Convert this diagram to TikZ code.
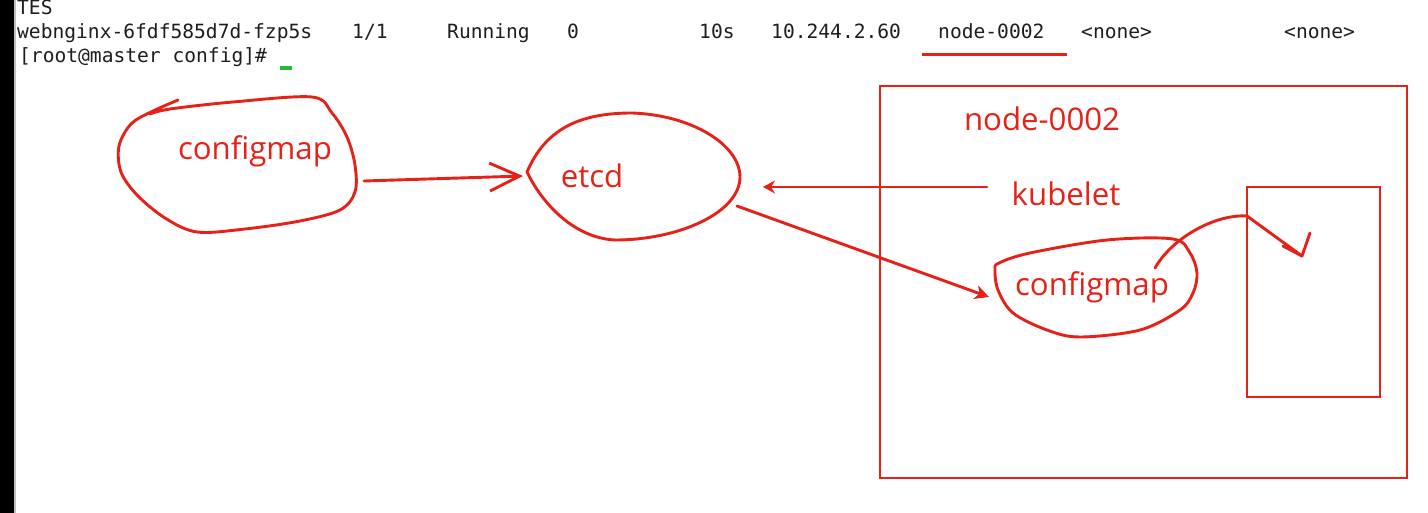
\documentclass[tikz,border=0pt]{standalone}
\usepackage{fontspec}
\setmainfont{Open Sans}
\newfontfamily\termfont{DejaVu Sans Mono}
\usetikzlibrary{arrows.meta}
\definecolor{ink}{RGB}{230,33,23}
\definecolor{term}{RGB}{30,30,30}
\definecolor{cursor}{RGB}{40,185,60}
\tikzset{
  term/.style={anchor=base west, inner sep=0pt, text=term, font=\termfont\fontsize{19.6}{20}\selectfont},
  label/.style={anchor=base, inner sep=0pt, text=ink, font=\fontsize{31.2}{32}\selectfont},
  pen/.style={draw=ink, line width=2.9pt, line cap=round, line join=round},
  box/.style={draw=ink, line width=2.9pt},
}
\begin{document}
\begin{tikzpicture}[x=1pt,y=-1pt]
\useasboundingbox (0,0) rectangle (1428,513);
\fill[white] (0,0) rectangle (1428,513);
\fill[black] (0,0) rectangle (14,513);
\fill[gray!50] (14,0) rectangle (16,513);

% terminal text
\node[term] (t0) at (17,15) {TES};
\node[term] (t1) at (17,38.5) {webnginx-6fdf585d7d-fzp5s};
\node[term] (t2) at (352,38.5) {1/1};
\node[term] (t3) at (447,38.5) {Running};
\node[term] (t4) at (567,38.5) {0};
\node[term] (t5) at (699,38.5) {10s};
\node[term] (t6) at (771,38.5) {10.244.2.60};
\node[term] (t7) at (938,38.5) {node-0002};
\node[term] (t8) at (1081,38.5) {<none>};
\node[term] (t9) at (1284,38.5) {<none>};
\node[term] (t10) at (19,62.5) {[root@master config]\#};
\fill[cursor] (280,66) rectangle (292,70);
\draw[ink, line width=3pt] (922,55) -- (1067,55);

% left configmap blob
\draw[pen] plot[smooth, tension=0.55] coordinates {(178,100) (151,112) (131,124) (119,146) (121,172) (137,195) (165,218) (197,232) (245,229) (300,221) (340,210) (355,192) (355,165) (347,137) (332,113) (312,97) (233,102) (170,109) (150,114)};
\node[label] (cm1) at (255,160) {configmap};

% etcd blob
\draw[pen] (527,172) .. controls (545,130) and (578,113) .. (632,113)
  .. controls (692,115) and (740,145) .. (740,177)
  .. controls (740,212) and (680,240) .. (615,240)
  .. controls (575,238) and (543,205) .. (527,172);
\node[label] (etcd) at (592,188) {etcd};

% node box
\draw[box] (880,86) rectangle (1407,478);
\node[label] (nd) at (1042,131) {node-0002};
\node[label] (kub) at (1066,206) {kubelet};
\draw[box] (1247,187) rectangle (1380,397);

% inner configmap blob
\draw[pen] plot[smooth cycle, tension=0.55] coordinates {(999,263) (1030,253) (1107,240) (1173,239) (1190,253) (1197,273) (1193,293) (1180,310) (1140,330) (1080,337) (1047,330) (1013,313) (998,290) (995,270)};
\node[label] (cm2) at (1092,295) {configmap};

% connectors
\coordinate (a1s) at (364,181);
\coordinate (a1e) at (523,176);
\draw[pen, -{Straight Barb[length=30pt,width=28pt]}] (a1s) -- (a1e);

\coordinate (a2s) at (987,187);
\coordinate (a2e) at (763,187);
\draw[pen, -{Stealth[length=12pt,width=13pt,inset=4pt]}] (a2s) -- (a2e);

\coordinate (a3s) at (737,206);
\coordinate (a3e) at (989,297);
\draw[pen, -{Stealth[length=14pt,width=14pt,inset=4pt]}] (a3s) -- (a3e);

\coordinate (a4s) at (1155,268);
\coordinate (a4m) at (1247,216);
\coordinate (a4e) at (1302,256);
\coordinate (h1) at (1310,233);
\coordinate (h2) at (1283,246);
\draw[pen] (a4s) .. controls (1172,238) and (1215,214) .. (a4m) -- (a4e);
\draw[pen] (h1) -- (a4e) -- (h2);
\end{tikzpicture}
\end{document}
